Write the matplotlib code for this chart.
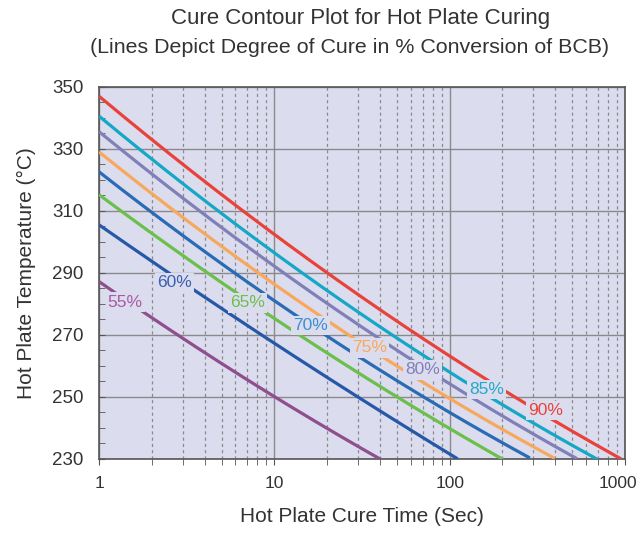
import numpy as np
import matplotlib
matplotlib.use("Agg")
import matplotlib.pyplot as plt
import matplotlib.transforms as mtransforms
from matplotlib import font_manager as fm

# ---- data ----
levels = ["55%", "60%", "65%", "70%", "75%", "80%", "85%", "90%"]
# temperatures at cure time 1 s, 10 s, 100 s, and the time at which each line reaches 230 C
temp_at_1 = [287.2, 305.5, 315.2, 322.7, 329.1, 335.6, 340.4, 347.0]
temp_at_10 = [250.1, 267.3, 275.4, 280.7, 286.1, 292.0, 297.0, 302.4]
temp_at_100 = [None, 231.6, 239.6, 245.5, 249.8, 254.4, 257.4, 263.2]
time_at_230 = [40, 111, 201, 287, 398, 532, 701, 950]
# label positions (time, temperature)
label_time = [1.41, 2.68, 7.0, 16.1, 34.9, 70.1, 163, 354]
label_temp = [280.6, 286.8, 280.3, 272.9, 265.8, 258.7, 252.3, 245.5]

x_ticks = [1, 10, 100, 1000]
x_tick_labels = ["1", "10", "100", "1000"]
y_ticks = [230, 250, 270, 290, 310, 330, 350]

line_colors = ["#8e4f8c", "#2559a8", "#6bbf4b", "#2a6cb3", "#f8a85c", "#8080b9", "#14a8c6", "#e8433b"]
label_colors = ["#a85aa6", "#3a5fae", "#6bbf4b", "#3b8fcf", "#f8a85c", "#8080b9", "#22a9c8", "#e8433b"]

names = [f.name for f in fm.fontManager.ttflist]
fam = ["Liberation Sans Narrow", "Liberation Sans", "DejaVu Sans"]
fam = [f for f in fam if f in names] or ["DejaVu Sans"]
plt.rcParams['font.family'] = fam

bg = "#dcdcef"
fig = plt.figure(figsize=(6.43, 5.33), dpi=100)
ax = fig.add_axes([0.154, 0.139, 0.818, 0.698])
ax.set_facecolor(bg)
ax.set_xscale("log")
ax.set_xlim(1, 1000)
ax.set_ylim(230, 350)

for i in range(len(levels)):
    xs = [1, 10]
    ys = [temp_at_1[i], temp_at_10[i]]
    if temp_at_100[i] is not None and time_at_230[i] > 100:
        xs.append(100)
        ys.append(temp_at_100[i])
    xs.append(time_at_230[i])
    ys.append(230)
    lx = np.log10(xs)
    coef = np.polyfit(lx, ys, 2)
    t = np.linspace(0, lx[-1], 200)
    ax.plot(10 ** t, np.polyval(coef, t), color=line_colors[i], lw=2.3, solid_capstyle="butt", zorder=3)
    ax.text(label_time[i], label_temp[i], levels[i], color=label_colors[i], fontsize=12.5,
            ha="center", va="center", zorder=4,
            bbox=dict(facecolor=bg, edgecolor="none", pad=1.5))

# grids
ax.set_yticks(y_ticks)
ax.set_yticks(np.arange(230, 351, 5), minor=True)
ax.set_xticks(x_ticks)
ax.set_xticklabels(x_tick_labels)
ax.grid(True, which="major", axis="both", color="#8a8a8a", lw=1.0, zorder=1)
ax.grid(True, which="minor", axis="x", color="#8a8a8a", lw=0.9, ls=(0, (2.5, 2.5)), zorder=1)
ax.set_axisbelow(True)

ax.tick_params(axis="y", which="both", direction="in", length=4, color="#555555", labelsize=13.5, pad=11)
ax.tick_params(axis="x", which="both", direction="out", length=4, color="#555555", labelsize=12.5, pad=8)
for s in ax.spines.values():
    s.set_color("#555555")
    s.set_linewidth(1.2)
for lbl in ax.get_xticklabels() + ax.get_yticklabels():
    lbl.set_color("#333333")
# keep the last x tick label inside the figure
last = ax.get_xticklabels()[-1]
last.set_transform(last.get_transform() + mtransforms.ScaledTranslation(-7 / 100, 0, fig.dpi_scale_trans))

ax.set_xlabel("Hot Plate Cure Time (Sec)", fontsize=15, color="#333333", labelpad=12)
ax.set_ylabel("Hot Plate Temperature (\u00b0C)", fontsize=15, color="#333333", labelpad=12)

fig.text(0.56, 0.965, "Cure Contour Plot for Hot Plate Curing", ha="center", va="center",
         fontsize=16, color="#333333")
fig.text(0.543, 0.911, "(Lines Depict Degree of Cure in % Conversion of BCB)", ha="center", va="center",
         fontsize=15.4, color="#333333")

fig.savefig("out.png", dpi=100)
